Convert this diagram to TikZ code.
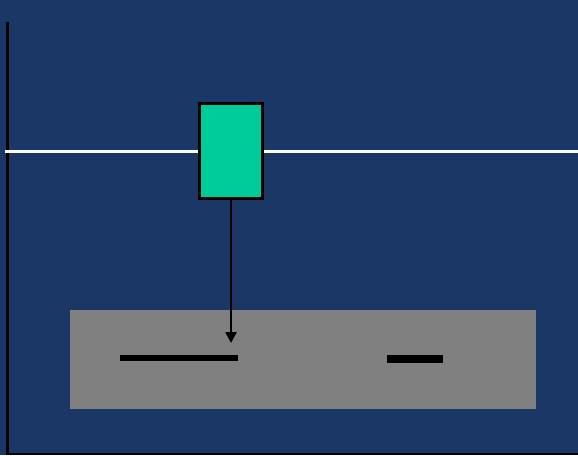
\documentclass[tikz,border=0pt]{standalone}
\definecolor{slide}{HTML}{1B3766}
\definecolor{boxgreen}{HTML}{00CC99}
\definecolor{panelgray}{HTML}{808080}
\usetikzlibrary{arrows.meta}

\begin{document}
\begin{tikzpicture}[x=1pt, y=-1pt,
  block/.style={draw=black, line width=2.6pt, minimum width=63pt, minimum height=95pt,
                fill=boxgreen, inner sep=0pt},
  panel/.style={fill=panelgray, minimum width=466pt, minimum height=99pt, inner sep=0pt},
  bar/.style={line width=#1, black},
]
  % slide background
  \fill[slide] (0,0) rectangle (578,455);
  \useasboundingbox (0,0) rectangle (578,455);

  % axes
  \draw[line width=3pt, black] (7.5,22) -- (7.5,455);
  \draw[line width=2.4pt, black] (6,454.2) -- (578,454.2);

  % level line
  \draw[line width=2.6pt, white] (5,151.3) -- (578,151.3);

  \node[panel] (pan) at (303.3,359.1) {};
  \node[block] (blk) at (231,151) {};

  % marks inside the panel
  \draw[bar=6pt] (120,357.5) -- (238.3,357.5);
  \draw[bar=7.5pt] (387.3,359.2) -- (443.3,359.2);

  \coordinate (hit) at (231,343);
  \draw[-{Triangle[width=11pt,length=11pt]}, line width=2.5pt] (blk.south) -- (hit);
\end{tikzpicture}
\end{document}
